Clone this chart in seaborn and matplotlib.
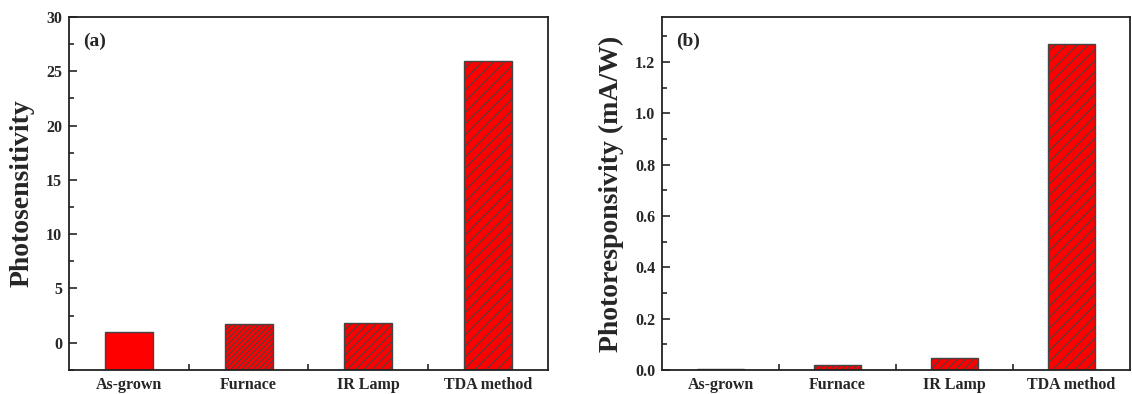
import matplotlib
matplotlib.use("Agg")
import matplotlib.pyplot as plt
import seaborn as sns
import pandas as pd
from matplotlib.ticker import MultipleLocator

categories = ["As-grown", "Furnace", "IR Lamp", "TDA method"]
photosensitivity = [1.0, 1.7, 1.8, 25.9]
photoresponsivity = [0.003, 0.018, 0.047, 1.27]
hatches = ["", "//////", "////", "///"]

sns.set_style("ticks")
plt.rcParams["font.family"] = ["Liberation Serif", "DejaVu Serif"]
plt.rcParams["font.weight"] = "bold"
plt.rcParams["hatch.color"] = "#3a0000"
plt.rcParams["hatch.linewidth"] = 0.75

fig = plt.figure(figsize=(11.32, 3.94), dpi=100)
ax1 = fig.add_axes([0.061, 0.061, 0.423, 0.896])
ax2 = fig.add_axes([0.585, 0.061, 0.413, 0.896])

df1 = pd.DataFrame({"cat": categories, "val": photosensitivity})
df2 = pd.DataFrame({"cat": categories, "val": photoresponsivity})

for ax, df, base in [(ax1, df1, -2.5), (ax2, df2, 0.0)]:
    sns.barplot(data=df, x="cat", y="val", ax=ax, color="#ff0000", width=0.4,
                edgecolor="#444444", linewidth=1.0, saturation=1)
    for p, h, v in zip(ax.patches, hatches, df["val"]):
        p.set_hatch(h)
        p.set_y(base)
        p.set_height(v - base)
    ax.set_xlim(-0.5, 3.5)
    ax.set_xlabel("")
    for s in ax.spines.values():
        s.set_linewidth(1.3)
        s.set_color("#222222")
    ax.set_xticks([0.5, 1.5, 2.5], minor=True)
    ax.tick_params(axis="x", which="major", length=0, labelsize=11.5, pad=5)
    ax.tick_params(axis="x", which="minor", direction="in", length=4, width=1.2)
    ax.tick_params(axis="y", which="both", direction="in", labelsize=11.5, width=1.2, pad=5)
    ax.tick_params(axis="y", which="major", length=6)
    ax.tick_params(axis="y", which="minor", length=3.5)
    for lab in ax.get_xticklabels() + ax.get_yticklabels():
        lab.set_fontweight("bold")

ax1.set_ylim(-2.5, 30)
ax1.yaxis.set_minor_locator(MultipleLocator(2.5))
ax1.set_yticks([0, 5, 10, 15, 20, 25, 30])
ax1.set_yticklabels(["0", "5", "10", "15", "20", "25", "30"], fontweight="bold")
ax1.set_ylabel("Photosensitivity", fontsize=20, fontweight="bold", labelpad=8)
ax1.text(0.03, 0.93, "(a)", transform=ax1.transAxes, fontsize=14, fontweight="bold", va="center")

ax2.set_ylim(0, 1.375)
ax2.yaxis.set_minor_locator(MultipleLocator(0.1))
ax2.set_yticks([0.0, 0.2, 0.4, 0.6, 0.8, 1.0, 1.2])
ax2.set_yticklabels(["0.0", "0.2", "0.4", "0.6", "0.8", "1.0", "1.2"], fontweight="bold")
ax2.set_ylabel("Photoresponsivity (mA/W)", fontsize=20, fontweight="bold", labelpad=8)
ax2.text(0.03, 0.93, "(b)", transform=ax2.transAxes, fontsize=14, fontweight="bold", va="center")

fig.savefig("out.png", dpi=100)
